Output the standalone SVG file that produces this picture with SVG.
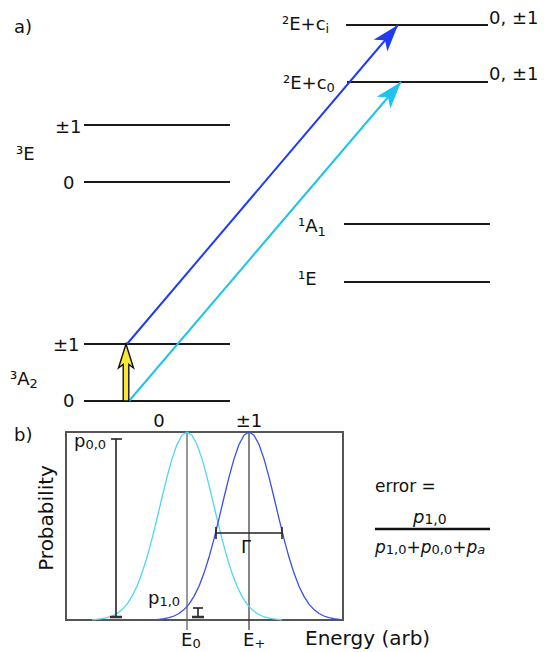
<svg xmlns="http://www.w3.org/2000/svg" width="544" height="652" viewBox="0 0 544 652">
<style>
text{font-family:"DejaVu Sans",Verdana,sans-serif;fill:#111}
.lbl{font-size:18px}
.sub{font-size:13px}
.lvl{stroke:#1a1a1a;stroke-width:2;fill:none}
.tick{stroke:#222;stroke-width:1.6;fill:none}
.it{font-style:italic}
</style>
<defs>
<marker id="hb" markerUnits="userSpaceOnUse" markerWidth="30" markerHeight="22" viewBox="0 0 30 22" refX="28" refY="11" orient="auto">
<path d="M1,2 L28,11 L1,20 L8,11 Z" fill="#1f3cf2"/>
</marker>
<marker id="hc" markerUnits="userSpaceOnUse" markerWidth="30" markerHeight="22" viewBox="0 0 30 22" refX="28" refY="11" orient="auto">
<path d="M1,2 L28,11 L1,20 L8,11 Z" fill="#1ec3ef"/>
</marker>
</defs>
<rect width="544" height="652" fill="#fff"/>
<text class="lbl" x="14" y="33">a)</text>
<text class="lbl" x="14" y="441">b)</text>

<g id="level-3A2">
<line class="lvl" x1="84" y1="344" x2="230" y2="344"/>
<line class="lvl" x1="84" y1="401" x2="230" y2="401"/>
<text class="lbl" x="10" y="385">³A<tspan class="sub" dy="3">2</tspan></text>
<text class="lbl" x="53" y="351">±1</text>
<text class="lbl" x="63" y="407">0</text>
</g>
<g id="level-3E">
<line class="lvl" x1="84" y1="125" x2="230" y2="125"/>
<line class="lvl" x1="84" y1="182" x2="230" y2="182"/>
<text class="lbl" x="16" y="160">³E</text>
<text class="lbl" x="55" y="133">±1</text>
<text class="lbl" x="63" y="189">0</text>
</g>
<g id="level-1A1">
<line class="lvl" x1="344" y1="224" x2="490" y2="224"/>
<text class="lbl" x="298" y="232">¹A<tspan class="sub" dy="4">1</tspan></text>
</g>
<g id="level-1E">
<line class="lvl" x1="344" y1="282" x2="490" y2="282"/>
<text class="lbl" x="298" y="285">¹E</text>
</g>
<g id="level-2Ec0">
<line class="lvl" x1="347" y1="82" x2="488" y2="82"/>
<text class="lbl" x="283" y="89">²E+c<tspan class="sub" dy="3">0</tspan></text>
<text class="lbl" x="489" y="80">0, ±1</text>
</g>
<g id="level-2Eci">
<line class="lvl" x1="346" y1="25" x2="488" y2="25"/>
<text class="lbl" x="282" y="30">²E+c<tspan class="sub" dy="3">i</tspan></text>
<text class="lbl" x="489" y="24">0, ±1</text>
</g>

<g id="connectors">
<line x1="129" y1="401" x2="401" y2="82" stroke="#1ec3ef" stroke-width="2" marker-end="url(#hc)"/>
<line x1="127" y1="344" x2="398" y2="25" stroke="#1f3cf2" stroke-width="2" marker-end="url(#hb)"/>
<path d="M126,344 L133.5,368 L128.8,364.5 L128.8,401 L123.2,401 L123.2,364.5 L118.5,368 Z" fill="#f7e83a" stroke="#111" stroke-width="1.4" stroke-linejoin="miter"/>
</g>

<g id="plot">
<rect x="66" y="432" width="277" height="188" fill="none" stroke="#555" stroke-width="2"/>
<line x1="187" y1="432" x2="187" y2="630" stroke="#555" stroke-width="1.2"/>
<line x1="249" y1="432" x2="249" y2="630" stroke="#333" stroke-width="1.2"/>
<polyline fill="none" stroke="#4fd6f2" stroke-width="1.3" stroke-linejoin="round" points="92,619.8 97,619.3 102,618.7 107,617.7 112,616.0 117,613.5 122,609.6 127,604.1 132,596.4 137,586.2 142,573.1 147,557.3 152,538.9 157,518.6 162,497.5 167,477.1 172,458.9 177,444.5 182,435.2 187,432 192,435.2 197,444.5 202,458.9 207,477.1 212,497.5 217,518.6 222,538.9 227,557.3 232,573.1 237,586.2 242,596.4 247,604.1 252,609.6 257,613.5 262,616.0 267,617.7 272,618.7 277,619.3 282,619.8"/>
<polyline fill="none" stroke="#3a4fe8" stroke-width="1.3" stroke-linejoin="round" points="154,619.8 159,619.3 164,618.7 169,617.7 174,616.0 179,613.5 184,609.6 189,604.1 194,596.4 199,586.2 204,573.1 209,557.3 214,538.9 219,518.6 224,497.5 229,477.1 234,458.9 239,444.5 244,435.2 249,432 254,435.2 259,444.5 264,458.9 269,477.1 274,497.5 279,518.6 284,538.9 289,557.3 294,573.1 299,586.2 304,596.4 309,604.1 314,609.6 319,613.5 324,616.0 329,617.7 334,618.7 339,619.3 343,619.7"/>
<text class="lbl" x="159" y="427" text-anchor="middle">0</text>
<text class="lbl" x="249" y="427" text-anchor="middle">±1</text>
<line class="tick" x1="116" y1="439" x2="116" y2="617"/>
<line class="tick" x1="111" y1="439" x2="122" y2="439"/>
<line x1="110" y1="617" x2="122" y2="617" stroke="#333" stroke-width="2.5"/>
<text class="lbl" x="74" y="447">p<tspan class="sub" dy="2">0,0</tspan></text>
<line class="tick" x1="198" y1="608" x2="198" y2="617"/>
<line class="tick" x1="193" y1="608" x2="203" y2="608"/>
<line x1="192" y1="617" x2="204" y2="617" stroke="#333" stroke-width="2.5"/>
<text class="lbl" x="148" y="604">p<tspan class="sub" dy="2">1,0</tspan></text>
<line class="tick" x1="216" y1="533" x2="282" y2="533" stroke-width="2"/>
<line class="tick" x1="216" y1="527" x2="216" y2="539" stroke-width="2"/>
<line class="tick" x1="282" y1="527" x2="282" y2="539" stroke-width="2"/>
<text class="lbl" x="241" y="553">Γ</text>
<text class="lbl" x="181" y="646">E<tspan class="sub" dy="2">0</tspan></text>
<text class="lbl" x="243" y="646">E<tspan class="sub" dy="2">+</tspan></text>
<text class="lbl" x="305" y="645" style="font-size:20px">Energy (arb)</text>
<text class="lbl" x="0" y="0" text-anchor="middle" transform="translate(53,518) rotate(-90)" style="font-size:20px">Probability</text>
</g>

<g id="formula">
<text x="375" y="492" style="font-size:17px">error =</text>
<text class="it" x="413" y="523" style="font-size:18px">p<tspan style="font-style:normal;font-size:14px" dy="1">1,0</tspan></text>
<line x1="375" y1="529" x2="490" y2="529" stroke="#111" stroke-width="2.5"/>
<text class="it" x="375" y="553" style="font-size:17px">p<tspan style="font-style:normal;font-size:13px" dy="1">1,0</tspan><tspan style="font-style:normal" dy="-1">+</tspan>p<tspan style="font-style:normal;font-size:13px" dy="1">0,0</tspan><tspan style="font-style:normal" dy="-1">+</tspan>p<tspan font-size="13" dy="1">a</tspan></text>
</g>
</svg>
